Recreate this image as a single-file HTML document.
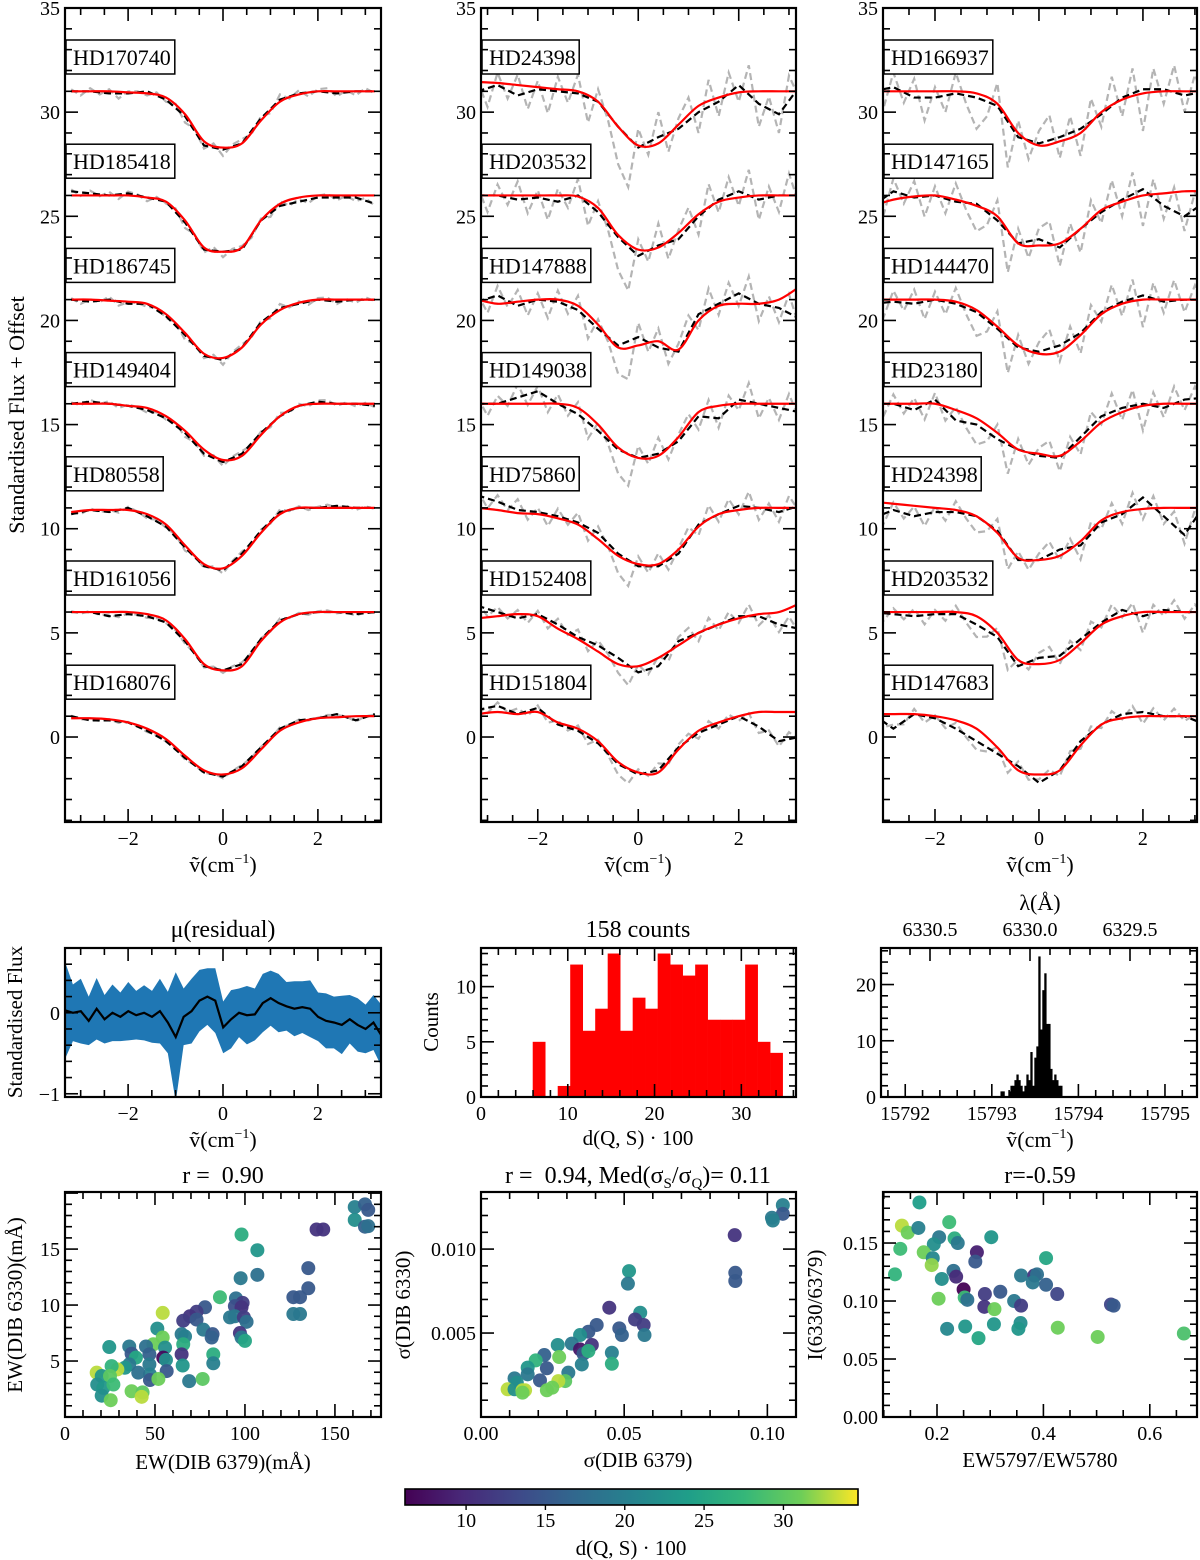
<!DOCTYPE html>
<html><head><meta charset="utf-8"><title>DIB 6330 figure</title>
<style>
html,body{margin:0;padding:0;background:#fff;}
svg{display:block;font-family:"Liberation Serif",serif;}
</style></head>
<body>
<svg id="fig" width="1200" height="1560" viewBox="0 0 1200 1560" xmlns="http://www.w3.org/2000/svg">
<defs>
<linearGradient id="viridis" x1="0" x2="1" y1="0" y2="0">
<stop offset="0" stop-color="#440154"/><stop offset="0.125" stop-color="#482878"/><stop offset="0.25" stop-color="#3e4989"/><stop offset="0.375" stop-color="#31688e"/><stop offset="0.5" stop-color="#26828e"/><stop offset="0.625" stop-color="#1f9e89"/><stop offset="0.75" stop-color="#35b779"/><stop offset="0.875" stop-color="#6ece58"/><stop offset="1" stop-color="#fde725"/>
</linearGradient>
</defs>
</svg>
<script>
// ---------- DATA ----------
const specX = [-3.2,-2.8,-2.4,-2.0,-1.6,-1.2,-0.8,-0.4,0,0.4,0.8,1.2,1.6,2.0,2.4,2.8,3.2];
const specBase = [31,26,21,16,11,6,1];
const namesA = ["HD170740","HD185418","HD186745","HD149404","HD80558","HD161056","HD168076"];
const namesB = ["HD24398","HD203532","HD147888","HD149038","HD75860","HD152408","HD151804"];
const namesC = ["HD166937","HD147165","HD144470","HD23180","HD24398","HD203532","HD147683"];
const redA = [
[0,0,0,-0.05,-0.1,-0.3,-1.1,-2.4,-2.7,-2.5,-1.4,-0.5,-0.15,0,0,0,0],
[0,0,0,0,-0.1,-0.3,-1.2,-2.5,-2.7,-2.5,-1.2,-0.4,-0.1,0,0,0,0],
[0,0,-0.05,-0.1,-0.2,-0.7,-1.6,-2.6,-2.8,-2.3,-1.2,-0.5,-0.15,0,0,0,0],
[0,0,0,-0.1,-0.2,-0.6,-1.3,-2.2,-2.7,-2.5,-1.5,-0.6,-0.1,0,0,0,0],
[-0.2,-0.1,-0.1,-0.1,-0.3,-0.8,-1.8,-2.7,-2.9,-2.3,-1.2,-0.3,0,0,0,0,0],
[0,0,0,0,-0.1,-0.4,-1.3,-2.5,-2.8,-2.6,-1.4,-0.5,-0.1,0,0,0,0],
[-0.1,-0.1,-0.15,-0.3,-0.6,-1.1,-1.9,-2.6,-2.8,-2.5,-1.6,-0.7,-0.3,-0.1,-0.05,0,0]];
const blackA = [
[0,0,-0.1,-0.1,0,-0.4,-1.2,-2.6,-2.8,-2.5,-1.3,-0.4,-0.1,0,-0.1,0,0],
[0.2,0.1,0,0.1,-0.1,-0.3,-1.3,-2.6,-2.7,-2.6,-1.2,-0.5,-0.3,-0.1,-0.1,-0.1,-0.4],
[0,-0.1,0,-0.2,-0.2,-0.8,-1.7,-2.7,-2.9,-2.3,-1.1,-0.4,-0.2,0,-0.1,0,0],
[0,0.1,0,-0.1,-0.3,-0.7,-1.4,-2.4,-2.8,-2.4,-1.4,-0.6,-0.1,0.1,0,0,-0.1],
[-0.3,-0.1,-0.2,0,-0.4,-0.9,-1.9,-2.8,-3.0,-2.2,-1.1,-0.2,0,0,0.1,0,0],
[0,0,-0.2,-0.1,-0.2,-0.5,-1.4,-2.6,-2.8,-2.5,-1.3,-0.4,-0.1,0,0,-0.1,0],
[0,-0.2,-0.2,-0.3,-0.7,-1.2,-2.0,-2.7,-2.9,-2.4,-1.5,-0.6,-0.2,-0.1,0.1,-0.2,0.1]];
const redB = [
[0.45,0.4,0.3,0.2,0.1,0,-0.5,-1.7,-2.6,-2.5,-1.6,-0.7,-0.3,-0.05,0,0,0],
[0,0,0,0,0,-0.05,-0.6,-1.9,-2.6,-2.5,-1.8,-0.9,-0.3,-0.1,0,0,0],
[0,-0.2,-0.1,0,0,-0.3,-1.2,-2.3,-2.2,-2.0,-2.4,-1.0,-0.3,-0.2,-0.2,0,0.6],
[0,0,0,0,0,-0.2,-1.0,-2.1,-2.6,-2.5,-1.6,-0.4,-0.1,0,0,0,0],
[0,-0.1,-0.25,-0.3,-0.5,-0.8,-1.5,-2.3,-2.7,-2.7,-2.0,-0.9,-0.3,-0.1,0,0,0],
[-0.3,-0.2,-0.1,-0.2,-0.8,-1.3,-1.9,-2.5,-2.6,-2.2,-1.6,-1.0,-0.6,-0.3,-0.1,0,0.4],
[0.1,0.2,0.1,0.2,-0.3,-0.6,-1.2,-2.2,-2.7,-2.7,-1.6,-0.7,-0.3,0,0.2,0.2,0.2]];
const blackB = [
[0,0.3,-0.2,0.1,0,-0.1,-0.5,-1.7,-2.7,-2.2,-1.8,-1.0,-0.5,0.3,-0.6,-1.1,0.2],
[0,0,-0.2,-0.1,-0.3,0,-0.8,-2.0,-2.9,-2.4,-2.1,-1.0,-0.2,0.2,-0.2,0,0],
[-0.1,0.2,-0.3,0,-0.1,-0.5,-1.4,-2.2,-1.8,-2.3,-2.5,-0.7,-0.2,0.3,-0.2,-0.4,-0.9],
[0,0,0.3,0.6,0,-0.5,-1.3,-2.2,-2.6,-2.4,-1.8,-0.6,-0.7,0.2,0,-0.2,-0.4],
[0.6,0.3,-0.1,-0.2,-0.4,-0.7,-1.2,-2.2,-2.8,-2.8,-2.2,-0.8,-0.3,0.1,0,-0.2,0.1],
[0.3,0,-0.3,-0.1,-0.6,-1.2,-1.6,-2.2,-2.9,-2.6,-1.4,-1.0,-0.6,-0.2,-0.2,-0.6,-0.8],
[0.3,0.5,0.1,0.4,-0.4,-0.7,-1.3,-2.3,-2.8,-2.6,-1.5,-0.8,-0.4,0,-0.5,-1.2,-1.0]];
const redC = [
[0,0,0,0,0,-0.1,-0.6,-2.0,-2.6,-2.4,-2.0,-1.0,-0.4,-0.1,0,0,0],
[-0.5,-0.2,-0.05,0,-0.2,-0.5,-1.0,-2.3,-2.4,-2.3,-1.6,-0.7,-0.3,0,0.1,0.2,0.2],
[0,0,0,0,-0.1,-0.5,-1.3,-2.2,-2.6,-2.5,-1.7,-0.7,-0.2,0,0,0,0],
[0,0,0,0,-0.3,-0.7,-1.4,-2.2,-2.4,-2.5,-1.8,-0.9,-0.4,-0.1,0,0,0],
[0.3,0.2,0.1,0,-0.1,-0.4,-1.2,-2.4,-2.5,-2.3,-1.6,-0.6,-0.2,-0.05,0,0,0],
[0,0,0,0,0,-0.2,-1.0,-2.3,-2.5,-2.3,-1.5,-0.6,-0.2,0,0,0,0],
[0.1,0.1,0.1,0,-0.2,-0.6,-1.5,-2.6,-2.8,-2.6,-1.4,-0.4,-0.1,0,0,0,0]];
const blackC = [
[0,0.2,-0.3,-0.3,-0.1,-0.3,-0.7,-2.2,-2.5,-2.2,-1.8,-1.1,-0.3,0.1,0.1,-0.2,0],
[-0.5,0.2,-0.1,0,-0.3,-0.4,-1.2,-2.3,-2.1,-2.5,-1.6,-0.8,-0.2,0.3,-0.5,-1.0,-0.3],
[-0.2,-0.1,-0.2,0,-0.2,-0.6,-1.4,-2.3,-2.5,-2.2,-1.6,-0.6,-0.1,0.2,-0.1,0,0],
[0,0,-0.3,0.2,-0.8,-1.0,-1.7,-2.2,-2.5,-2.6,-1.6,-0.6,-0.2,0,-0.2,0.2,0.3],
[-0.5,-0.1,-0.4,-0.2,-0.2,-0.4,-1.1,-2.5,-2.5,-2.0,-1.8,-0.7,-0.3,0.5,-0.4,-1.3,0.2],
[0,-0.1,-0.2,-0.1,-0.1,-0.6,-1.2,-2.6,-2.2,-2.1,-1.3,-0.5,0.1,-0.2,0.1,0,0],
[0.1,-0.6,0.1,-0.1,-0.6,-1.2,-1.8,-2.4,-3.2,-2.6,-1.2,-0.4,0.1,0.2,0,0,-0.4]];
// gray (unsmoothed) spectrum deviations from the smoothed curve, sampled every 0.2 cm^-1 from -3.2
const grayX0 = -3.2, grayStep = 0.2;
const grayDevA = [0.1,-0.2,0.15,-0.1,0.2,-0.25,0.1,0.05,-0.2,0.15,-0.1,0.2,-0.3,0.1,-0.15,0.2,-0.3,0.1,0.2,-0.15,0.1,-0.2,0.25,-0.1,0.15,-0.2,0.1,0.2,-0.15,0.1,-0.2,0.15,-0.1];
const grayDevB = [0.5,-0.9,0.6,-0.4,1.0,-0.8,0.4,-1.1,0.7,-0.5,0.9,-1.2,0.6,-0.3,-1.8,-2.4,0.9,-0.6,1.2,-0.9,0.5,1.1,-1.0,1.3,-0.7,1.0,-0.8,1.4,-1.1,0.6,-0.9,1.2,-0.5];
const grayDevC = [0.4,-1.0,0.7,-0.5,0.9,-1.1,0.5,-0.8,1.0,-0.4,-1.5,-0.7,1.1,-2.2,0.8,-0.9,0.6,1.2,-1.0,0.8,-1.3,1.1,-0.6,1.4,-0.9,1.2,-2.0,1.0,-0.7,1.3,-0.8,0.9,-0.6];

const residX0 = -3.33, residStep = 0.1667;
const residMean = [0.03,0,0.02,-0.1,0.05,-0.08,0,-0.05,0.02,-0.03,0,-0.05,0.02,-0.12,-0.3,-0.05,0.02,0.15,0.2,0.15,-0.18,-0.08,0,-0.03,-0.02,0.12,0.18,0.12,0.08,0.05,0.07,0.05,-0.05,-0.1,-0.12,-0.15,-0.08,-0.15,-0.2,-0.12,-0.28];
const residHalf = [0.6,0.35,0.4,0.3,0.38,0.3,0.35,0.3,0.36,0.3,0.34,0.32,0.4,0.38,0.8,0.35,0.4,0.38,0.35,0.4,0.32,0.36,0.3,0.36,0.32,0.36,0.34,0.36,0.3,0.34,0.32,0.35,0.3,0.34,0.32,0.36,0.3,0.33,0.3,0.34,0.38];

const hist1Start = 5.96, hist1Width = 1.44;
const hist1Counts = [5,0,1,12,6,8,13,6,9,8,13,12,11,12,7,7,7,12,5,4];

const hist2Start = 15793.1, hist2Width = 0.023;
const hist2Counts = [1,1,0,0,1,2,2,3,4,3,2,1,2,4,3,8,2,7,9,25,12,19,22,13,13,5,3,4,3,2,2];

const s1X = [161,166.7,168.5,161,166.7,168.5,139.8,143.5,98.1,106.9,135.2,135.2,97.6,106.9,86.1,126.9,130.6,126.9,130.6,95,98.7,94.4,98.1,91.7,94.4,99.4,100.9,97.2,98.1,100,77.8,73.1,69.4,65.7,73.1,76.9,82,81.5,54.3,51.3,54.3,64.8,66.7,65.7,49.1,55.6,54.6,56.1,56.5,64.8,65.4,82.4,82.4,24.6,35.7,37,39.4,45,46.9,46.9,47.2,47.2,51.9,35.7,40.7,33.3,29.1,25.9,17.6,20.4,25,17.9,21.3,26.9,20.4,25.4,37,43.1,42.6,69,76.5];
const s1Y = [18.75,19,18.5,17.6,17,17.05,16.75,16.75,16.3,14.9,13.3,11.5,12.4,12.7,10.7,10.7,10.7,9.2,9.2,10.6,10.2,9.9,9.8,8.9,9,8.9,8.5,7.5,7.1,6.8,9.8,9.4,9,8.6,8.7,7.8,7.4,7.1,9.3,7.9,7.1,7.4,7.2,6.5,6.5,6.2,5.3,5.1,4.1,5.6,4.6,5.6,4.8,6.25,6.3,5.65,5.3,6.3,5.6,4.7,3.8,3.3,3.4,4.7,3.96,4.4,4.25,4.55,3.96,3.66,3.66,2.9,2.6,2.9,1.9,1.5,2.3,2.2,1.8,3.2,3.4];
const s1D = [20,16,15,22,16,18,11,11,26,23,15,15,19,18,28,15,15,19,19,18,12,14,11,19,19,12,18,11,19,25,15,12,11,12,15,19,15,16,33,22,31,19,20,26,31,22,7,22,15,11,23,26,20,23,19,15,25,18,16,19,20,15,31,19,18,23,33,27,33,23,30,22,23,28,22,31,31,30,33,19,30];

const s2X = [0.1054,0.1054,0.1016,0.1019,0.0886,0.0888,0.0888,0.0517,0.0513,0.0448,0.0556,0.0538,0.0568,0.0571,0.0483,0.0492,0.0404,0.0375,0.0346,0.0387,0.0317,0.0346,0.0358,0.0375,0.0352,0.0268,0.0457,0.0457,0.0221,0.0191,0.0273,0.023,0.0163,0.0163,0.0117,0.0125,0.0206,0.0305,0.0294,0.027,0.0249,0.023,0.0093,0.0117,0.0145,0.0154,0.0145];
const s2Y = [0.01262,0.0121,0.01187,0.0117,0.01083,0.00859,0.0081,0.00869,0.00794,0.00651,0.00621,0.00581,0.00548,0.00488,0.00528,0.00488,0.00548,0.00508,0.00488,0.00429,0.00437,0.00403,0.00377,0.00393,0.00313,0.00429,0.00383,0.00317,0.00369,0.00337,0.00357,0.0029,0.00294,0.00254,0.0023,0.00204,0.00218,0.00264,0.00214,0.00214,0.00175,0.00159,0.00165,0.00165,0.00159,0.00159,0.00145];
const s2D = [20,15,19,20,11,15,15,23,19,11,22,12,12,19,15,16,15,15,22,11,19,8,15,26,20,22,20,26,16,27,31,15,23,19,19,22,15,19,30,33,31,31,33,22,33,33,31];

const s3X = [0.167,0.134,0.145,0.165,0.223,0.204,0.194,0.233,0.239,0.302,0.131,0.175,0.192,0.19,0.275,0.272,0.405,0.121,0.231,0.236,0.209,0.358,0.383,0.388,0.38,0.405,0.25,0.426,0.29,0.319,0.203,0.252,0.257,0.345,0.358,0.289,0.308,0.527,0.532,0.219,0.253,0.307,0.357,0.353,0.278,0.427,0.502,0.664];
const s3Y = [0.185,0.165,0.159,0.163,0.168,0.155,0.149,0.154,0.15,0.155,0.145,0.142,0.137,0.131,0.142,0.134,0.137,0.123,0.126,0.121,0.119,0.122,0.122,0.123,0.116,0.114,0.11,0.106,0.106,0.108,0.102,0.103,0.101,0.1,0.096,0.095,0.093,0.097,0.096,0.076,0.078,0.08,0.081,0.076,0.068,0.077,0.069,0.072];
const s3D = [24,33,31,20,28,19,22,26,19,23,28,31,21,32,9,15,25,27,18,10,22,19,11,18,19,16,6,13,12,15,31,28,18,19,12,11,31,13,15,21,23,23,22,23,25,31,31,29];

const cbarTicks = [10,15,20,25,30];

// ---------- HELPERS ----------
const NS = "http://www.w3.org/2000/svg";
const svg = document.getElementById("fig");
function el(tag, attrs, parent, text){
  const e = document.createElementNS(NS, tag);
  for (const k in attrs) e.setAttribute(k, attrs[k]);
  if (text !== undefined) e.textContent = text;
  (parent || svg).appendChild(e);
  return e;
}
function makeAxes(name, box, xd, yd){
  const g = el("g", {});
  
  
  const [L,T,R,B] = box;
  const sx = v => L + (v - xd[0]) / (xd[1] - xd[0]) * (R - L);
  const sy = v => B - (v - yd[0]) / (yd[1] - yd[0]) * (B - T);
  const id = "clip-" + name;
  const cp = el("clipPath", {id: id}, g);
  el("rect", {x: L, y: T, width: R - L, height: B - T}, cp);
  const plot = el("g", {"clip-path": "url(#" + id + ")"}, g);
  
  
  return {g, plot, sx, sy, box, xd, yd};
}
function fmt(v, dec){ const s = v.toFixed(dec); return s.replace("-", "\u2212"); }
function ticks(ax, xmaj, xmin, ymaj, ymin, xdec, ydec, opts){
  opts = opts || {};
  const [L,T,R,B] = ax.box;
  const tg = el("g", {stroke: "#000", "stroke-width": 1.6}, ax.g);
  
  
  const eps = 1e-9;
  function range(a, b, s){ const out=[]; const st=Math.ceil((a-eps)/s); for(let k=st; k*s<=b+eps; k++) out.push(+(k*s).toFixed(10)); return out; }
  const isMaj = (v, m) => Math.abs(v/m - Math.round(v/m)) < 1e-6;
  range(ax.xd[0], ax.xd[1], xmin).forEach(v=>{
    const x = ax.sx(v); const len = isMaj(v, xmaj) ? 13 : 7;
    el("line", {x1:x, x2:x, y1:B, y2:B-len}, tg);
    if (!opts.noTopX) el("line", {x1:x, x2:x, y1:T, y2:T+len}, tg);
  });
  range(ax.yd[0], ax.yd[1], ymin).forEach(v=>{
    const y = ax.sy(v); const len = isMaj(v, ymaj) ? 13 : 7;
    el("line", {x1:L, x2:L+len, y1:y, y2:y}, tg);
    el("line", {x1:R, x2:R-len, y1:y, y2:y}, tg);
  });
  const lg = el("g", {"font-size": 20, fill: "#000"}, ax.g);
  
  
  (opts.xlabels || range(ax.xd[0], ax.xd[1], xmaj)).forEach(v=>{
    const t = el("text", {x: ax.sx(v), y: B + 23, "text-anchor": "middle"}, lg, fmt(v, xdec));
    
    
  });
  (opts.ylabels || range(ax.yd[0], ax.yd[1], ymaj)).forEach(v=>{
    const t = el("text", {x: L - 5, y: ax.sy(v) + 7, "text-anchor": "end"}, lg, fmt(v, ydec));
    
    
  });
  const fr = el("rect", {x:L, y:T, width:R-L, height:B-T, fill:"none", stroke:"#000", "stroke-width":2.2}, ax.g);
  
  
}
function smoothPath(pts){
  let d = "M" + pts[0][0] + "," + pts[0][1];
  for (let i=0;i<pts.length-1;i++){
    const p0 = pts[Math.max(0,i-1)], p1 = pts[i], p2 = pts[i+1], p3 = pts[Math.min(pts.length-1,i+2)];
    const c1 = [p1[0]+(p2[0]-p0[0])/6, p1[1]+(p2[1]-p0[1])/6];
    const c2 = [p2[0]-(p3[0]-p1[0])/6, p2[1]-(p3[1]-p1[1])/6];
    d += " C"+c1[0]+","+c1[1]+" "+c2[0]+","+c2[1]+" "+p2[0]+","+p2[1];
  }
  return d;
}
function interp(xs, ys, x){
  if (x <= xs[0]) return ys[0];
  for (let i=0;i<xs.length-1;i++){ if (x <= xs[i+1]) { const u=(x-xs[i])/(xs[i+1]-xs[i]); return ys[i]+(ys[i+1]-ys[i])*u; } }
  return ys[ys.length-1];
}
function text(x, y, s, size, attrs, name){
  const a = Object.assign({x:x, y:y, "font-size": size, "text-anchor":"middle"}, attrs||{});
  const t = el("text", a, svg, s);
  
  
  return t;
}
function vtext(x, y, s, size, name){
  const t = el("text", {x:0, y:0, "font-size": size, "text-anchor":"middle", transform:"translate("+x+","+y+") rotate(-90)"}, svg, s);
  
  
  return t;
}
const vir = ["#440154","#482878","#3e4989","#31688e","#26828e","#1f9e89","#35b779","#6ece58","#fde725"];
function hex2rgb(h){ return [1,3,5].map(i=>parseInt(h.substr(i,2),16)); }
function viridis(d){
  let t = (d - 6.15) / (34.7 - 6.15); t = Math.max(0, Math.min(1, t));
  const f = t * (vir.length - 1); const i = Math.min(Math.floor(f), vir.length - 2); const u = f - i;
  const a = hex2rgb(vir[i]), b = hex2rgb(vir[i+1]);
  return "rgb(" + a.map((v,k)=>Math.round(v + (b[k]-v)*u)).join(",") + ")";
}

// ---------- SPECTRA PANELS ----------
function spectraPanel(name, box, xd, names, reds, blacks, grayDev){
  const ax = makeAxes(name, box, xd, [-4.08, 35]);
  reds.forEach((r, i)=>{
    const base = specBase[i];
    const gp = grayDev.map((dv,k)=>{ const x = grayX0 + k*grayStep; return [ax.sx(x), ax.sy(base + interp(specX, blacks[i], x) + dv * (1 - 0.12*i))]; });
    const gl = el("polyline", {points: gp.map(p=>p.join(",")).join(" "), fill:"none", stroke:"#b4b4b4", "stroke-width":2.2, "stroke-dasharray":"7,4"}, ax.plot);
    
    
    const bp = blacks[i].map((v,k)=>[ax.sx(specX[k]), ax.sy(base+v)]);
    const bl = el("polyline", {points: bp.map(p=>p.join(",")).join(" "), fill:"none", stroke:"#000", "stroke-width":2.2, "stroke-dasharray":"7,4"}, ax.plot);
    
    
    const rp = r.map((v,k)=>[ax.sx(specX[k]), ax.sy(base+v)]);
    const rl = el("path", {d: smoothPath(rp), fill:"none", stroke:"#ff0000", "stroke-width":2.2}, ax.plot);
    
    
    const ty = box[1] + 32 + i * 104.2;
    const lb = el("g", {}, ax.g);
    
    
    const w = names[i].length * 11.6 + 16;
    el("rect", {x: box[0]+1, y: ty, width: w, height: 34, fill:"#fff", stroke:"#000", "stroke-width":1.5}, lb);
    el("text", {x: box[0]+8, y: ty+25, "font-size": 22}, lb, names[i]);
  });
  ticks(ax, 2, 0.5, 5, 1, 0, 0);
  return ax;
}
spectraPanel("spectra-panel-left", [65,8,381,822], [-3.33,3.33], namesA, redA, blackA, grayDevA);
spectraPanel("spectra-panel-middle", [481,8,796,822], [-3.13,3.14], namesB, redB, blackB, grayDevB);
spectraPanel("spectra-panel-right", [883,8,1197,822], [-3.0,3.04], namesC, redC, blackC, grayDevC);
vtext(24, 415, "Standardised Flux + Offset", 22, "y-axis-title-spectra");
[223, 638, 1040].forEach(cx=>{
  const t = text(cx, 872, "ṽ(cm", 22, {}, "x-axis-title-wavenumber");
  el("tspan", {"font-size":14, dy:-9}, t, "−1");
  el("tspan", {dy:9}, t, ")");
});

// ---------- RESIDUAL ----------
(function(){
  const ax = makeAxes("residual-panel", [65,948,381,1097], [-3.33,3.33], [-1.04,0.8]);
  const xs = residMean.map((_,i)=>residX0 + i*residStep);
  const up = residMean.map((m,i)=>[ax.sx(xs[i]), ax.sy(m + residHalf[i])]);
  const lo = residMean.map((m,i)=>[ax.sx(xs[i]), ax.sy(m - residHalf[i])]).reverse();
  const band = el("polygon", {points: up.concat(lo).map(p=>p.join(",")).join(" "), fill:"#1f77b4"}, ax.plot);
  
  
  const ln = el("polyline", {points: residMean.map((m,i)=>ax.sx(xs[i])+","+ax.sy(m)).join(" "), fill:"none", stroke:"#000", "stroke-width":2.2}, ax.plot);
  
  
  ticks(ax, 2, 0.5, 1, 0.2, 0, 0);
  text(223, 937, "μ(residual)", 24, {}, "residual-title");
  vtext(22, 1022, "Standardised Flux", 21, "y-axis-title-residual");
  const t = text(223, 1147, "ṽ(cm", 22, {}, "x-axis-title-residual");
  el("tspan", {"font-size":14, dy:-9}, t, "−1"); el("tspan", {dy:9}, t, ")");
})();

// ---------- HIST 1 ----------
(function(){
  const ax = makeAxes("distance-histogram", [481,948,796,1097], [0,36.3], [0,13.5]);
  hist1Counts.forEach((c,i)=>{
    if (!c) return;
    const x0 = hist1Start + i*hist1Width;
    const r = el("rect", {x: ax.sx(x0), y: ax.sy(c), width: ax.sx(x0+hist1Width)-ax.sx(x0)+0.3, height: ax.sy(0)-ax.sy(c), fill:"#ff0000"}, ax.plot);
    
    
  });
  ticks(ax, 10, 2, 5, 1, 0, 0);
  text(638, 937, "158 counts", 24, {}, "histogram-title");
  vtext(438, 1022, "Counts", 21, "y-axis-title-counts");
  text(638, 1145, "d(Q, S) · 100", 21, {}, "x-axis-title-distance");
})();

// ---------- HIST 2 ----------
(function(){
  const ax = makeAxes("peak-histogram", [881,948,1197,1097], [15791.72,15795.37], [0,26.5]);
  hist2Counts.forEach((c,i)=>{
    if (!c) return;
    const x0 = hist2Start + i*hist2Width;
    const r = el("rect", {x: ax.sx(x0), y: ax.sy(c), width: ax.sx(x0+hist2Width)-ax.sx(x0)+0.3, height: ax.sy(0)-ax.sy(c), fill:"#000"}, ax.plot);
    
    
  });
  ticks(ax, 1, 0.2, 10, 2, 0, 0, {noTopX:true});
  const lam = v => 1030 - (v - 6330.0) * 200;
  const tg = el("g", {stroke:"#000","stroke-width":1.6}, ax.g);
  
  
  for (let k=-9; k<=7; k++){
    const v = 6330 + k*0.1; const x = lam(v);
    if (x < 882 || x > 1196) continue;
    const maj = k % 5 === 0;
    el("line", {x1:x, x2:x, y1:948, y2:948+(maj?13:7)}, tg);
  }
  [6330.5, 6330.0, 6329.5].forEach(v=>text(lam(v), 936, v.toFixed(1), 20, {}, "wavelength-tick-label"));
  text(1040, 910, "λ(Å)", 22, {}, "top-axis-title-wavelength");
  const t = text(1040, 1147, "ṽ(cm", 22, {}, "x-axis-title-peak");
  el("tspan", {"font-size":14, dy:-9}, t, "−1"); el("tspan", {dy:9}, t, ")");
})();

// ---------- SCATTERS ----------
function scatter(name, box, xd, yd, xs, ys, ds){
  const ax = makeAxes(name, box, xd, yd);
  xs.forEach((x,i)=>{
    const c = el("circle", {cx: ax.sx(x), cy: ax.sy(ys[i]), r: 7, fill: viridis(ds[i]), "fill-opacity": 0.95}, ax.plot);
    
    
  });
  return ax;
}
(function(){
  const ax = scatter("ew-scatter", [65,1192,381,1417], [0,175.6], [0,20.1], s1X, s1Y, s1D);
  ticks(ax, 50, 10, 5, 1, 0, 0, {ylabels:[5,10,15]});
  text(223, 1183, "r =\u00a0\u00a00.90", 24, {}, "ew-scatter-title");
  vtext(22, 1305, "EW(DIB 6330)(mÅ)", 21, "y-axis-title-ew6330");
  text(223, 1469, "EW(DIB 6379)(mÅ)", 21, {}, "x-axis-title-ew6379");
})();
(function(){
  const ax = scatter("sigma-scatter", [481,1192,796,1417], [0,0.110], [0,0.0134], s2X, s2Y, s2D);
  ticks(ax, 0.05, 0.01, 0.005, 0.001, 2, 3, {ylabels:[0.005,0.010]});
  const t = text(638, 1183, "r =\u00a0\u00a00.94, Med(σ", 24, {}, "sigma-scatter-title");
  el("tspan", {"font-size":15, dy:5}, t, "S"); el("tspan", {dy:-5}, t, "/σ");
  el("tspan", {"font-size":15, dy:5}, t, "Q"); el("tspan", {dy:-5}, t, ")=\u00a00.11");
  vtext(410, 1305, "σ(DIB 6330)", 21, "y-axis-title-sigma6330");
  text(638, 1467, "σ(DIB 6379)", 21, {}, "x-axis-title-sigma6379");
})();
(function(){
  const ax = scatter("ratio-scatter", [883,1192,1197,1417], [0.0985,0.6887], [0,0.194], s3X, s3Y, s3D);
  ticks(ax, 0.2, 0.05, 0.05, 0.01, 1, 2);
  text(1040, 1183, "r=-0.59", 24, {}, "ratio-scatter-title");
  vtext(822, 1305, "I(6330/6379)", 21, "y-axis-title-intensity-ratio");
  text(1040, 1467, "EW5797/EW5780", 21, {}, "x-axis-title-ew-ratio");
})();

// ---------- COLORBAR ----------
(function(){
  const g = el("g", {});
  
  
  const L = 405, R = 858, T = 1489, B = 1505, d0 = 6.15, d1 = 34.7;
  const sx = v => L + (v - d0) / (d1 - d0) * (R - L);
  el("rect", {x:L, y:T, width:R-L, height:B-T, fill:"url(#viridis)", stroke:"#000", "stroke-width":1.6}, g);
  cbarTicks.forEach(v=>{
    const x = sx(v);
    el("line", {x1:x, x2:x, y1:B, y2:B+5, stroke:"#000", "stroke-width":1.4}, g);
    const t = el("text", {x: x, y: 1527, "font-size":20, "text-anchor":"middle"}, g, String(v));
    
    
  });
  text(631, 1555, "d(Q, S) · 100", 21, {}, "colorbar-title");
})();
</script>
</body></html>
